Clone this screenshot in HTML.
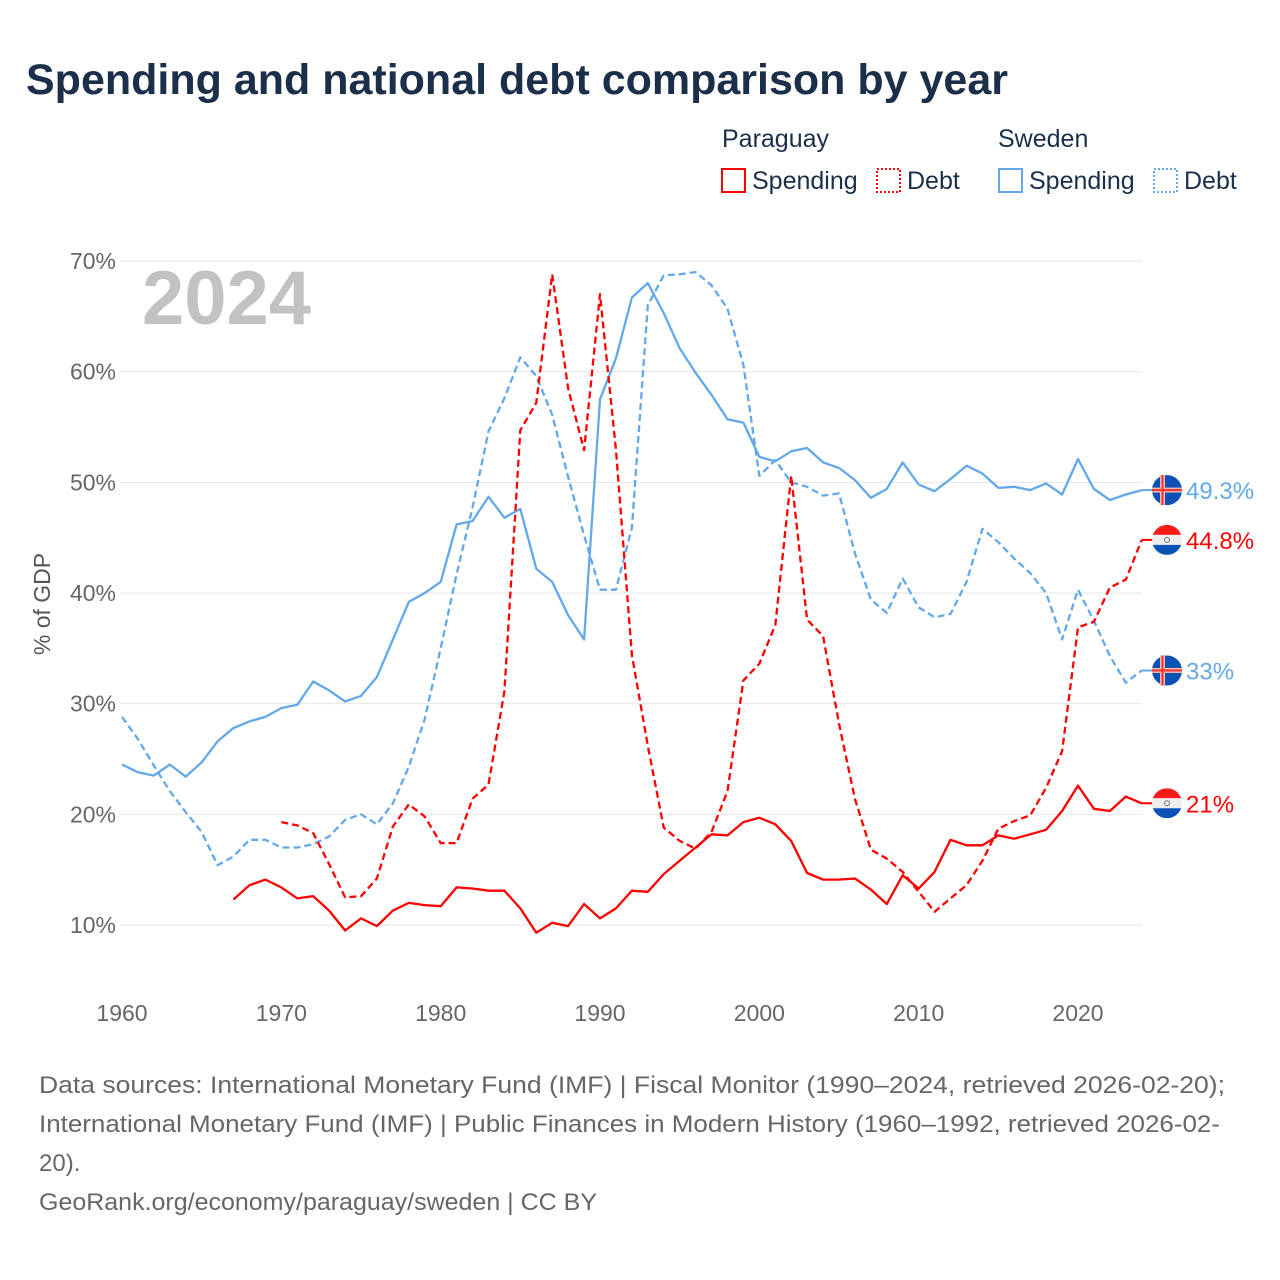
<!DOCTYPE html>
<html><head><meta charset="utf-8">
<style>
html,body{margin:0;padding:0;background:#fff;width:1280px;height:1280px;overflow:hidden;font-family:"Liberation Sans",sans-serif;}
</style></head>
<body>
<svg id="chart" width="1280" height="1280" xmlns="http://www.w3.org/2000/svg" font-family="Liberation Sans, sans-serif">
<text x="26" y="94" font-size="43" font-weight="bold" fill="#1b2f4b">Spending and national debt comparison by year</text>
<g font-size="25" fill="#1b2f4b">
<text x="722" y="147">Paraguay</text>
<text x="998" y="147">Sweden</text>
<rect x="722" y="169" width="23" height="23" fill="none" stroke="#ff0000" stroke-width="2"/>
<text x="752" y="189">Spending</text>
<rect x="877" y="169" width="23" height="23" fill="none" stroke="#ff0000" stroke-width="2" stroke-dasharray="2,2"/>
<text x="907" y="189">Debt</text>
<rect x="999" y="169" width="23" height="23" fill="none" stroke="#63a8ea" stroke-width="2"/>
<text x="1029" y="189">Spending</text>
<rect x="1154" y="169" width="23" height="23" fill="none" stroke="#63a8ea" stroke-width="2" stroke-dasharray="2,2"/>
<text x="1184" y="189">Debt</text>
</g>
<g id="grid"></g>
<text x="142" y="324" font-size="76" font-weight="bold" fill="#c2c2c2">2024</text>
<text transform="translate(50,604) rotate(-90)" text-anchor="middle" font-size="23" fill="#555">% of GDP</text>
<g id="series"></g>
<g id="ends"></g>
<g font-size="24" fill="#666">
<text x="39" y="1093" textLength="1186" lengthAdjust="spacingAndGlyphs">Data sources: International Monetary Fund (IMF) | Fiscal Monitor (1990–2024, retrieved 2026-02-20);</text>
<text x="39" y="1132" textLength="1181" lengthAdjust="spacingAndGlyphs">International Monetary Fund (IMF) | Public Finances in Modern History (1960–1992, retrieved 2026-02-</text>
<text x="39" y="1171">20).</text>
<text x="39" y="1210" textLength="558" lengthAdjust="spacingAndGlyphs">GeoRank.org/economy/paraguay/sweden | CC BY</text>
</g>
</svg>
<script>
const yTicks=[10,20,30,40,50,60,70];
const xTicks=[1960,1970,1980,1990,2000,2010,2020];
const swSpendStart=1960;
const swSpend=[24.5,23.8,23.5,24.5,23.4,24.7,26.6,27.8,28.4,28.8,29.6,29.9,32.0,31.2,30.2,30.7,32.4,35.8,39.2,40.0,41.0,46.2,46.5,48.7,46.8,47.6,42.2,41.0,38.0,35.8,57.5,61.2,66.7,68.0,65.3,62.1,59.9,57.9,55.7,55.4,52.3,51.9,52.8,53.1,51.8,51.3,50.2,48.6,49.4,51.8,49.8,49.2,50.3,51.5,50.8,49.5,49.6,49.3,49.9,48.9,52.1,49.4,48.4,48.9,49.3];
const swDebtStart=1960;
const swDebt=[28.8,26.8,24.4,22.1,20.2,18.4,15.4,16.2,17.7,17.7,17.0,17.0,17.3,18.0,19.5,20.0,19.1,21.0,24.3,28.6,35.0,41.7,47.7,54.6,57.6,61.3,59.6,56.1,50.5,45.2,40.3,40.3,45.9,66.0,68.7,68.8,69.0,67.8,65.7,60.6,50.6,52.0,50.0,49.6,48.8,49.0,43.6,39.4,38.2,41.3,38.7,37.8,38.1,41.0,45.8,44.6,43.1,41.8,40.0,35.8,40.3,37.5,34.3,31.9,33.0];
const pySpendStart=1967;
const pySpend=[12.3,13.6,14.1,13.4,12.4,12.6,11.3,9.5,10.6,9.9,11.3,12.0,11.8,11.7,13.4,13.3,13.1,13.1,11.5,9.3,10.2,9.9,11.9,10.6,11.5,13.1,13.0,14.6,15.8,17.0,18.2,18.1,19.3,19.7,19.1,17.6,14.7,14.1,14.1,14.2,13.2,11.9,14.5,13.3,14.8,17.7,17.2,17.2,18.1,17.8,18.2,18.6,20.3,22.6,20.5,20.3,21.6,21.0];
const pyDebtStart=1970;
const pyDebt=[19.3,19.0,18.3,15.5,12.5,12.6,14.2,18.9,20.9,19.8,17.4,17.4,21.4,22.7,31.1,54.7,57.2,68.8,58.5,52.9,67.0,53.0,34.4,26.2,18.8,17.6,16.9,18.4,22.1,32.1,33.6,37.1,50.6,37.6,36.1,28.2,21.4,16.8,16.0,14.8,13.0,11.2,12.4,13.6,15.8,18.7,19.4,19.9,22.4,25.7,36.9,37.4,40.5,41.2,44.8];
const endLabels=["49.3%","44.8%","33%","21%"];

const NS="http://www.w3.org/2000/svg";
const X=y=>122+(y-1960)*(1078-122)/60;
const Y=v=>925-(v-10)*(925-261)/60;
const grid=document.getElementById('grid');
yTicks.forEach(t=>{
  const l=document.createElementNS(NS,'line');
  
  
  l.setAttribute('x1',120);l.setAttribute('x2',1142);
  l.setAttribute('y1',Y(t));l.setAttribute('y2',Y(t));
  l.setAttribute('stroke','#e6e6e6');l.setAttribute('stroke-width','1');
  grid.appendChild(l);
  const tx=document.createElementNS(NS,'text');
  
  
  tx.setAttribute('x',116);tx.setAttribute('y',Y(t)+8);
  tx.setAttribute('text-anchor','end');tx.setAttribute('font-size','23');tx.setAttribute('fill','#666');
  tx.textContent=t+'%';grid.appendChild(tx);
});
xTicks.forEach(t=>{
  const tx=document.createElementNS(NS,'text');
  
  
  tx.setAttribute('x',X(t));tx.setAttribute('y',1021);
  tx.setAttribute('text-anchor','middle');tx.setAttribute('font-size','23');tx.setAttribute('fill','#666');
  tx.textContent=t;grid.appendChild(tx);
});
const series=document.getElementById('series');
function line(vals,start,color,dash,name){
  const p=document.createElementNS(NS,'path');
  
  
  p.setAttribute('d',vals.map((v,i)=>(i?'L':'M')+X(start+i).toFixed(1)+','+Y(v).toFixed(1)).join(''));
  p.setAttribute('fill','none');p.setAttribute('stroke',color);p.setAttribute('stroke-width','2.3');
  p.setAttribute('stroke-linejoin','round');
  if(dash)p.setAttribute('stroke-dasharray','7,4');
  series.appendChild(p);
  return Y(vals[vals.length-1]);
}
const ySS=line(swSpend,swSpendStart,'#63a8ea',false,'sweden-spending-line');
const ySD=line(swDebt,swDebtStart,'#63a8ea',true,'sweden-debt-line');
const yPS=line(pySpend,pySpendStart,'#ff0000',false,'paraguay-spending-line');
const yPD=line(pyDebt,pyDebtStart,'#ff0000',true,'paraguay-debt-line');
const ends=document.getElementById('ends');
function flag(y,kind,label,color){
  const g=document.createElementNS(NS,'g');
  
  
  const cx=1167;
  const seg=document.createElementNS(NS,'line');
  seg.setAttribute('x1',X(2024));seg.setAttribute('x2',cx);seg.setAttribute('y1',y);seg.setAttribute('y2',y);
  seg.setAttribute('stroke',color);seg.setAttribute('stroke-width','2');g.appendChild(seg);
  if(kind==='sweden'){
    g.innerHTML+=`<circle cx="${cx}" cy="${y}" r="15" fill="#0a52b5"/><rect x="${cx-7}" y="${y-15}" width="5" height="30" fill="#f7b8a8"/><rect x="${cx-15}" y="${y-2.5}" width="30" height="5" fill="#f7b8a8"/><rect x="${cx-5.5}" y="${y-15}" width="2" height="30" fill="#e33"/><rect x="${cx-15}" y="${y-1}" width="30" height="2" fill="#e33"/>`;
  }else{
    g.innerHTML+=`<clipPath id="c${Math.round(y)}"><circle cx="${cx}" cy="${y}" r="15"/></clipPath><g clip-path="url(#c${Math.round(y)})"><rect x="${cx-15}" y="${y-15}" width="30" height="10" fill="#ff1a1a"/><rect x="${cx-15}" y="${y-5}" width="30" height="10" fill="#eee"/><rect x="${cx-15}" y="${y+5}" width="30" height="10" fill="#0a52b5"/></g><circle cx="${cx}" cy="${y}" r="2.5" fill="none" stroke="#777" stroke-width="1"/>`;
  }
  const t=document.createElementNS(NS,'text');
  
  
  t.setAttribute('x',1186);t.setAttribute('y',y+9);t.setAttribute('font-size','24');t.setAttribute('fill',color);
  t.textContent=label;g.appendChild(t);
  ends.appendChild(g);
}
flag(ySS,'sweden',endLabels[0],'#63a8ea');
flag(yPD,'paraguay',endLabels[1],'#ff0000');
flag(ySD,'sweden',endLabels[2],'#63a8ea');
flag(yPS,'paraguay',endLabels[3],'#ff0000');
</script>
</body></html>
